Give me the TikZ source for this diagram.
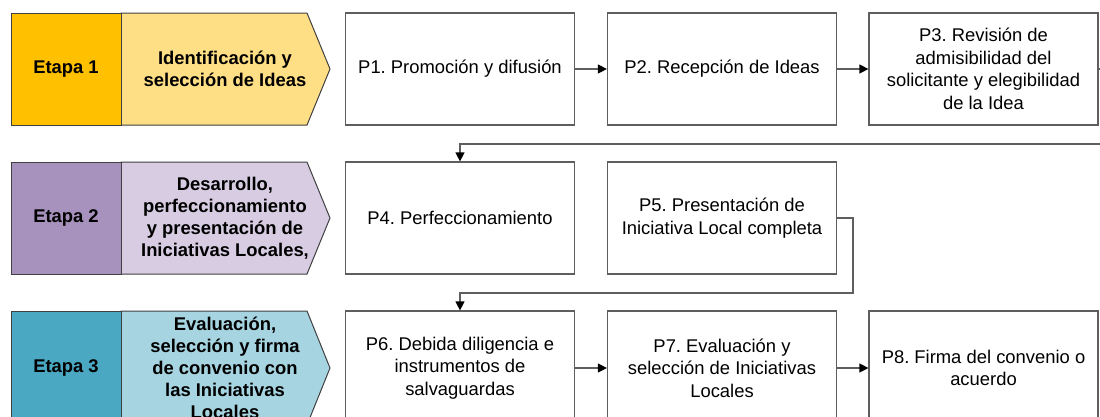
\documentclass[tikz,border=0pt]{standalone}
\usepackage{fontspec}
\setmainfont{Liberation Sans}
\frenchspacing
\usetikzlibrary{arrows.meta}
\definecolor{etA}{HTML}{FFC000}
\definecolor{etAl}{HTML}{FFDF85}
\definecolor{etB}{HTML}{A791BD}
\definecolor{etBl}{HTML}{D7CCE2}
\definecolor{etC}{HTML}{4AA8C2}
\definecolor{etCl}{HTML}{A6D5E1}
\definecolor{lineg}{HTML}{5E5E5E}
\definecolor{bordg}{HTML}{404040}
\begin{document}
\begin{tikzpicture}[x=1pt,y=-1pt,
  every node/.style={font=\fontsize{18.4}{22.5}\selectfont, text=black},
  procbox/.style={draw=lineg, line width=1.2pt, fill=white, minimum width=229pt, minimum height=112pt, align=center, inner sep=0pt},
  etapabox/.style={draw=bordg, line width=1pt, minimum width=110pt, minimum height=112pt, inner sep=0pt, font=\fontsize{18.4}{22.5}\selectfont\bfseries},
  chevtext/.style={align=center, inner sep=0pt, font=\fontsize{18.4}{22}\selectfont\bfseries},
  chev/.style={draw=bordg, line width=1pt},
  conn/.style={draw=lineg, line width=1.2pt, -{Triangle[length=9pt,width=9pt,color=black]}}
]
\useasboundingbox (0,0) rectangle (1100,416);
\clip (0,0) rectangle (1100,416);
\fill[white] (0,0) rectangle (1100,416);

% Etapa 1
\path[chev, fill=etAl] (121,13) -- (307,13) -- (330,69) -- (307,125) -- (121,125) -- cycle;
\node[etapabox, fill=etA] (e1) at (66,69) {Etapa 1};
\node[chevtext] (c1) at (225,69) {Identificación y\\selección de Ideas};

% Etapa 2
\path[chev, fill=etBl] (121,162) -- (307,162) -- (330,218) -- (307,274) -- (121,274) -- cycle;
\node[etapabox, fill=etB] (e2) at (66,218) {Etapa 2};
\node[chevtext] (c2) at (225,218) {Desarrollo,\\perfeccionamiento\\y presentación de\\Iniciativas Locales,};

% Etapa 3
\path[chev, fill=etCl] (121,311) -- (307,311) -- (330,368) -- (307,425) -- (121,425) -- cycle;
\node[etapabox, fill=etC, minimum height=114pt] (e3) at (66,368) {Etapa 3};
\node[chevtext] (c3) at (225,368) {Evaluación,\\selección y firma\\de convenio con\\las Iniciativas\\Locales};

% Row 1
\node[procbox] (p1) at (460,69) {P1. Promoción y difusión};
\node[procbox] (p2) at (722,69) {P2. Recepción de Ideas};
\node[procbox] (p3) at (983.5,69) {P3. Revisión de\\admisibilidad del\\solicitante y elegibilidad\\de la Idea};

% Row 2
\node[procbox] (p4) at (460,218) {P4. Perfeccionamiento};
\node[procbox] (p5) at (722,218) {P5. Presentación de\\Iniciativa Local completa};

% Row 3
\node[procbox, minimum height=114pt] (p6) at (460,368) {P6. Debida diligencia e\\instrumentos de\\salvaguardas};
\node[procbox, minimum height=114pt] (p7) at (722,368) {P7. Evaluación y\\selección de Iniciativas\\Locales};
\node[procbox, minimum height=114pt] (p8) at (983.5,368) {P8. Firma del convenio o\\acuerdo};

% Connectors
\draw[conn] (p1) -- (p2);
\draw[conn] (p2) -- (p3);
\draw[conn] (p3.east) -- ++(10,0) |- (460,144) -| (p4.north);
\draw[conn] (p5.east) -- (853,218) |- (460,293) -| (p6.north);
\draw[conn] (p6) -- (p7);
\draw[conn] (p7) -- (p8);
\end{tikzpicture}
\end{document}
